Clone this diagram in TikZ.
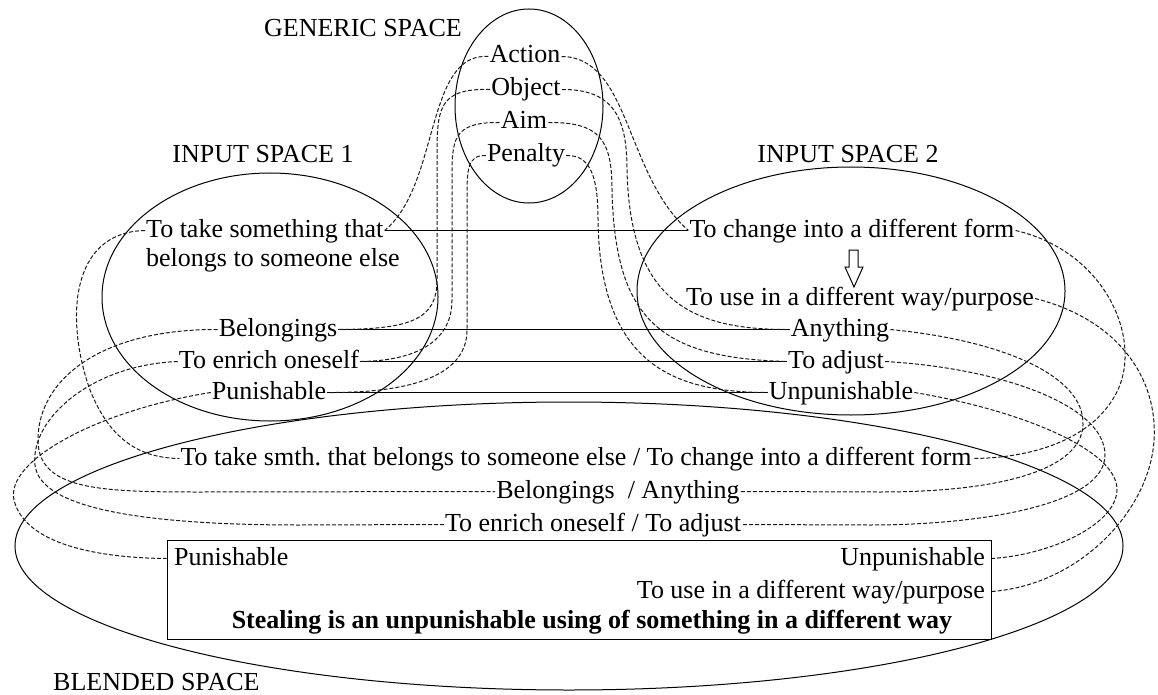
\documentclass[tikz,border=0pt]{standalone}
\usepackage{fontspec}
\setmainfont{Liberation Serif}
\usetikzlibrary{shapes.geometric, positioning}

\begin{document}
\begin{tikzpicture}[
    x=1pt, y=-1pt,
    spaceoval/.style={ellipse, draw, line width=1pt, inner sep=0pt},
    entry/.style={inner xsep=1pt, inner ysep=1pt, text height=18pt, text depth=5pt, font=\fontsize{26}{28}\selectfont},
    midentry/.style={entry, anchor=base},
    match/.style={line width=1pt},
    link/.style={line width=1pt, black!90, dash pattern=on 4pt off 2pt}
]
\useasboundingbox (0,0) rectangle (1158,695);

\node (gen) [spaceoval, minimum width=148, minimum height=194] at (529,106) {};
\node (in1) [spaceoval, minimum width=336, minimum height=248] at (270,297) {};
\node (in2) [spaceoval, minimum width=428, minimum height=248] at (851,291) {};
\node (blend) [spaceoval, minimum width=1108, minimum height=288] at (569,546) {};
\node (box) [draw, line width=1pt, minimum width=824, minimum height=99, inner sep=0pt] at (579,589.5) {};

\node (gsp) [entry, anchor=base east] at (463,37) {GENERIC SPACE};
\node (act) [midentry] at (525,63) {Action};
\node (obj) [midentry] at (526,96) {Object};
\node (aim) [midentry] at (524,129) {Aim};
\node (pen) [midentry] at (526,162) {Penalty};
\node (isp1) [midentry] at (263,163) {INPUT SPACE 1};
\node (isp2) [midentry] at (848,163) {INPUT SPACE 2};

\node (take1) [entry, anchor=base west] at (145,237) {To take something that};
\node (take2) [entry, below=4pt of take1.south west, anchor=north west] {belongs to someone else};
\node (bel) [midentry] at (278,336) {Belongings};
\node (enr) [midentry] at (269,368) {To enrich oneself};
\node (pun) [midentry] at (269,399) {Punishable};

\node (chg) [midentry] at (852,237) {To change into a different form};
\node (use) [midentry] at (860,305) {To use in a different way/purpose};
\node (any) [midentry] at (840,336) {Anything};
\node (adj) [midentry] at (836,368) {To adjust};
\node (unp) [midentry] at (841,399) {Unpunishable};

\node (b1) [midentry] at (576,465) {To take smth.\ that belongs to someone else / To change into a different form};
\node (b2) [midentry] at (618,498) {Belongings\ \ / Anything};
\node (b3) [midentry] at (593,531) {To enrich oneself / To adjust};
\node (bpun) [entry, anchor=base west] at (173,565) {Punishable};
\node (bunp) [entry, anchor=base east] at (986,565) {Unpunishable};
\node (buse) [entry, anchor=base east] at (986,598) {To use in a different way/purpose};
\node (thesis) [midentry, font=\fontsize{26}{28}\selectfont\bfseries] at (592,628) {Stealing is an unpunishable using of something in a different way};
\node (bsp) [entry, anchor=base west] at (52,690) {BLENDED SPACE};

\draw [match] (849,250) -- (858,250) -- (858,267) -- (863,267) -- (854,287) -- (845,267) -- (849,267) -- cycle;

\draw [match] (take1.east) -- (chg.west);
\draw [match] (bel.east) -- (any.west);
\draw [match] (enr.east) -- (adj.west);
\draw [match] (pun.east) -- (unp.west);

\draw [link] (act.west) .. controls (425,52) and (440,185) .. (take1.east);
\draw [link] (obj.west) .. controls (437,88) and (437,110) .. (437,160) -- (437,280) .. controls (437,320) and (410,329) .. (bel.east);
\draw [link] (aim.west) .. controls (452,122) and (452,140) .. (452,180) -- (452,300) .. controls (452,345) and (410,361) .. (enr.east);
\draw [link] (pen.west) .. controls (467,155) and (467,170) .. (467,200) -- (467,330) .. controls (467,380) and (400,393) .. (pun.east);

\draw [link] (act.east) .. controls (630,57) and (625,175) .. (chg.west);
\draw [link] (obj.east) .. controls (615,89) and (627,120) .. (627,170) .. controls (630,300) and (690,330) .. (any.west);
\draw [link] (aim.east) .. controls (600,122) and (612,140) .. (612,190) .. controls (615,320) and (660,358) .. (adj.west);
\draw [link] (pen.east) .. controls (590,155) and (598,175) .. (598,220) .. controls (600,370) and (680,392) .. (unp.west);

\draw [link] (take1.west) .. controls (70,232) and (65,320) .. (90,390) .. controls (110,440) and (140,458) .. (b1.west);
\draw [link] (bel.west) .. controls (100,329) and (38,380) .. (38,440) .. controls (38,490) and (100,492) .. (200,492) -- (b2.west);
\draw [link] (enr.west) .. controls (90,365) and (30,420) .. (35,465) .. controls (40,510) and (150,525) .. (300,525) -- (b3.west);
\draw [link] (pun.west) .. controls (100,410) and (5,460) .. (14,500) .. controls (25,545) and (100,558) .. (bpun.west -| box.west);

\draw [link] (chg.east) .. controls (1100,250) and (1140,330) .. (1120,385) .. controls (1100,435) and (1040,458) .. (b1.east);
\draw [link] (use.east) .. controls (1120,320) and (1158,380) .. (1154,440) .. controls (1150,510) and (1080,585) .. (buse.east -| box.east);
\draw [link] (any.east) .. controls (1000,340) and (1085,375) .. (1083,425) .. controls (1081,470) and (1000,492) .. (880,492) -- (b2.east);
\draw [link] (adj.east) .. controls (1000,368) and (1105,405) .. (1105,455) .. controls (1105,505) and (980,525) .. (870,525) -- (b3.east);
\draw [link] (unp.east) .. controls (1020,410) and (1118,450) .. (1117,490) .. controls (1116,525) and (1050,555) .. (bunp.east -| box.east);
\end{tikzpicture}
\end{document}
